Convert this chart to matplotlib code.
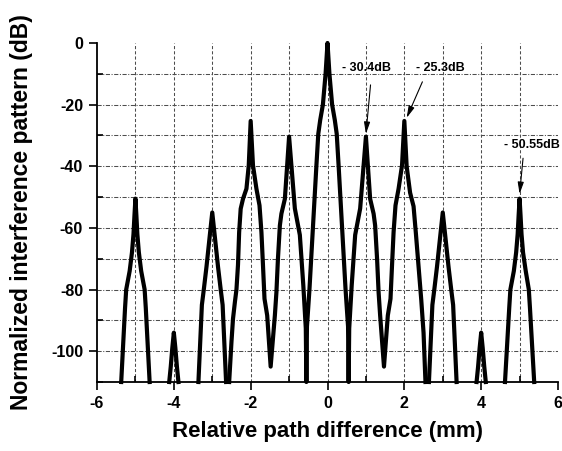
import numpy as np
import matplotlib
matplotlib.use('Agg')
import matplotlib.pyplot as plt
from matplotlib.ticker import MultipleLocator

plt.rcParams['font.family'] = ['Liberation Sans', 'DejaVu Sans']
plt.rcParams['font.weight'] = 'bold'
plt.rcParams['axes.unicode_minus'] = False

# traced interference pattern, one list pair per visible lobe group
m5_x = [-5.37, -5.27, -5.24, -5.15, -5.09, -5.05, -5.025, -5.0, -4.975, -4.95, -4.91, -4.85, -4.76, -4.73, -4.63]
m5_y = [-110, -86, -80, -74, -68, -62, -56, -50.5, -56, -62, -68, -74, -80, -86, -110]

m4_x = [-4.12, -4.08, -4.04, -4.0, -3.96, -3.92, -3.88]
m4_y = [-110, -105, -99, -94, -99, -105, -110]

m3_x = [-3.36, -3.27, -3.22, -3.15, -3.06, -3.0, -2.94, -2.85, -2.78, -2.73, -2.64]
m3_y = [-110, -85, -80, -72.6, -62, -55, -62, -72.6, -80, -85, -110]

mid_x = [-2.56, -2.50, -2.46, -2.41, -2.37, -2.33, -2.30, -2.26, -2.20, -2.11, -2.05, -2.0,
         -1.94, -1.85, -1.77, -1.72, -1.68, -1.64, -1.57, -1.48, -1.37, -1.33, -1.29, -1.24,
         -1.20, -1.11, -1.05, -1.0, -0.94, -0.85, -0.77, -0.72, -0.63, -0.565, -0.55, -0.535,
         -0.47, -0.38, -0.29, -0.24, -0.19, -0.12, -0.05, 0.0, 0.05, 0.12, 0.19, 0.24, 0.29,
         0.38, 0.47, 0.535, 0.55, 0.565, 0.63, 0.72, 0.77, 0.85, 0.94, 1.0, 1.05, 1.11, 1.20,
         1.24, 1.29, 1.33, 1.37, 1.47, 1.57, 1.64, 1.68, 1.72, 1.77, 1.85, 1.94, 2.0, 2.06,
         2.15, 2.24, 2.30, 2.37, 2.44, 2.50, 2.55]
mid_y = [-110, -97, -89.5, -84, -80, -72, -61.4, -53.8, -50.6, -47.3, -39.7, -25.3,
         -39.7, -47.3, -52.7, -61.4, -72, -83, -88.4, -105, -88.4, -80.9, -70, -59.2,
         -55.4, -50.6, -39.7, -30.4, -39.7, -53.7, -59, -62.3, -78.6, -92.6, -110, -92,
         -80, -60, -40, -29.5, -25, -20, -10, 0, -10, -20, -25, -29.5, -40,
         -60, -80, -92, -110, -92.6, -78.6, -62.3, -59, -53.7, -39.7, -30.4, -39.7, -50.6, -55.4,
         -59.2, -70, -80.9, -88.4, -105, -88.4, -83, -72, -61.4, -52.7, -47.3, -39.7, -25.3, -40,
         -48.6, -53, -61.7, -72.5, -83.3, -94, -110]

p3_x = [2.64, 2.73, 2.78, 2.85, 2.94, 3.0, 3.06, 3.15, 3.22, 3.27, 3.36]
p3_y = [-110, -85, -80, -72.6, -62, -55, -62, -72.6, -80, -85, -110]

p4_x = [3.88, 3.92, 3.96, 4.0, 4.04, 4.08, 4.12]
p4_y = [-110, -105, -99, -94, -99, -105, -110]

p5_x = [4.62, 4.73, 4.76, 4.85, 4.91, 4.95, 4.975, 5.0, 5.025, 5.05, 5.09, 5.16, 5.24, 5.27, 5.38]
p5_y = [-110, -86, -80, -74, -68, -62, -56, -50.5, -56, -62, -68, -74, -80, -86, -110]

segments = [(m5_x, m5_y), (m4_x, m4_y), (m3_x, m3_y), (mid_x, mid_y),
            (p3_x, p3_y), (p4_x, p4_y), (p5_x, p5_y)]

# annotations: text, peak position, arrow tail, text position
notes = [('- 30.4dB', (1.0, -29.5), (1.12, -13.6), (1.02, -8.2)),
         ('- 25.3dB', (2.06, -24.3), (2.47, -12.6), (2.95, -8.2)),
         ('- 50.55dB', (5.0, -49.0), (5.09, -37.4), (5.31, -33.1))]

fig = plt.figure(figsize=(5.62, 4.51), dpi=100)
ax = fig.add_axes([0.1726, 0.153, 0.8203, 0.7517])

for xs, ys in segments:
    assert len(xs) == len(ys)
    ax.plot(xs, ys, color='black', lw=3.0, solid_joinstyle='round', clip_on=False, zorder=3)

# grid lines
for gx in range(-5, 6):
    ax.axvline(gx, color='0.3', lw=0.75, dashes=(3, 2), zorder=1)
for gy in range(-100, 0, 10):
    ax.axhline(gy, color='0.3', lw=0.75, dashes=(4, 1.5, 1, 1.5), zorder=1)

for txt, tip, tail, pos in notes:
    ax.annotate('', xy=tip, xytext=tail,
                arrowprops=dict(arrowstyle='-|>,head_length=0.7,head_width=0.18', color='black', lw=0.8,
                                shrinkA=0, shrinkB=0))
    ax.text(pos[0], pos[1], txt, fontsize=9, fontweight='bold', ha='center', va='center')

ax.set_xlim(-6, 6)
ax.set_ylim(-110, 0)
ax.xaxis.set_major_locator(MultipleLocator(2))
ax.xaxis.set_minor_locator(MultipleLocator(1))
ax.yaxis.set_major_locator(MultipleLocator(20))
ax.yaxis.set_minor_locator(MultipleLocator(10))
ax.tick_params(which='major', direction='out', length=6, width=1.2, labelsize=11.5, pad=4)
ax.tick_params(which='minor', direction='in', length=4, width=1.2)
for lab in ax.get_xticklabels() + ax.get_yticklabels():
    lab.set_fontweight('bold')

for s in ['top', 'right']:
    ax.spines[s].set_visible(False)
for s in ['left', 'bottom']:
    ax.spines[s].set_linewidth(1.3)

ax.set_xlabel('Relative path difference (mm)', fontsize=16, fontweight='bold', labelpad=7)
ax.set_ylabel('Normalized interference pattern (dB)', fontsize=16.5, fontweight='bold', labelpad=13)

fig.savefig('out.png', dpi=100)
